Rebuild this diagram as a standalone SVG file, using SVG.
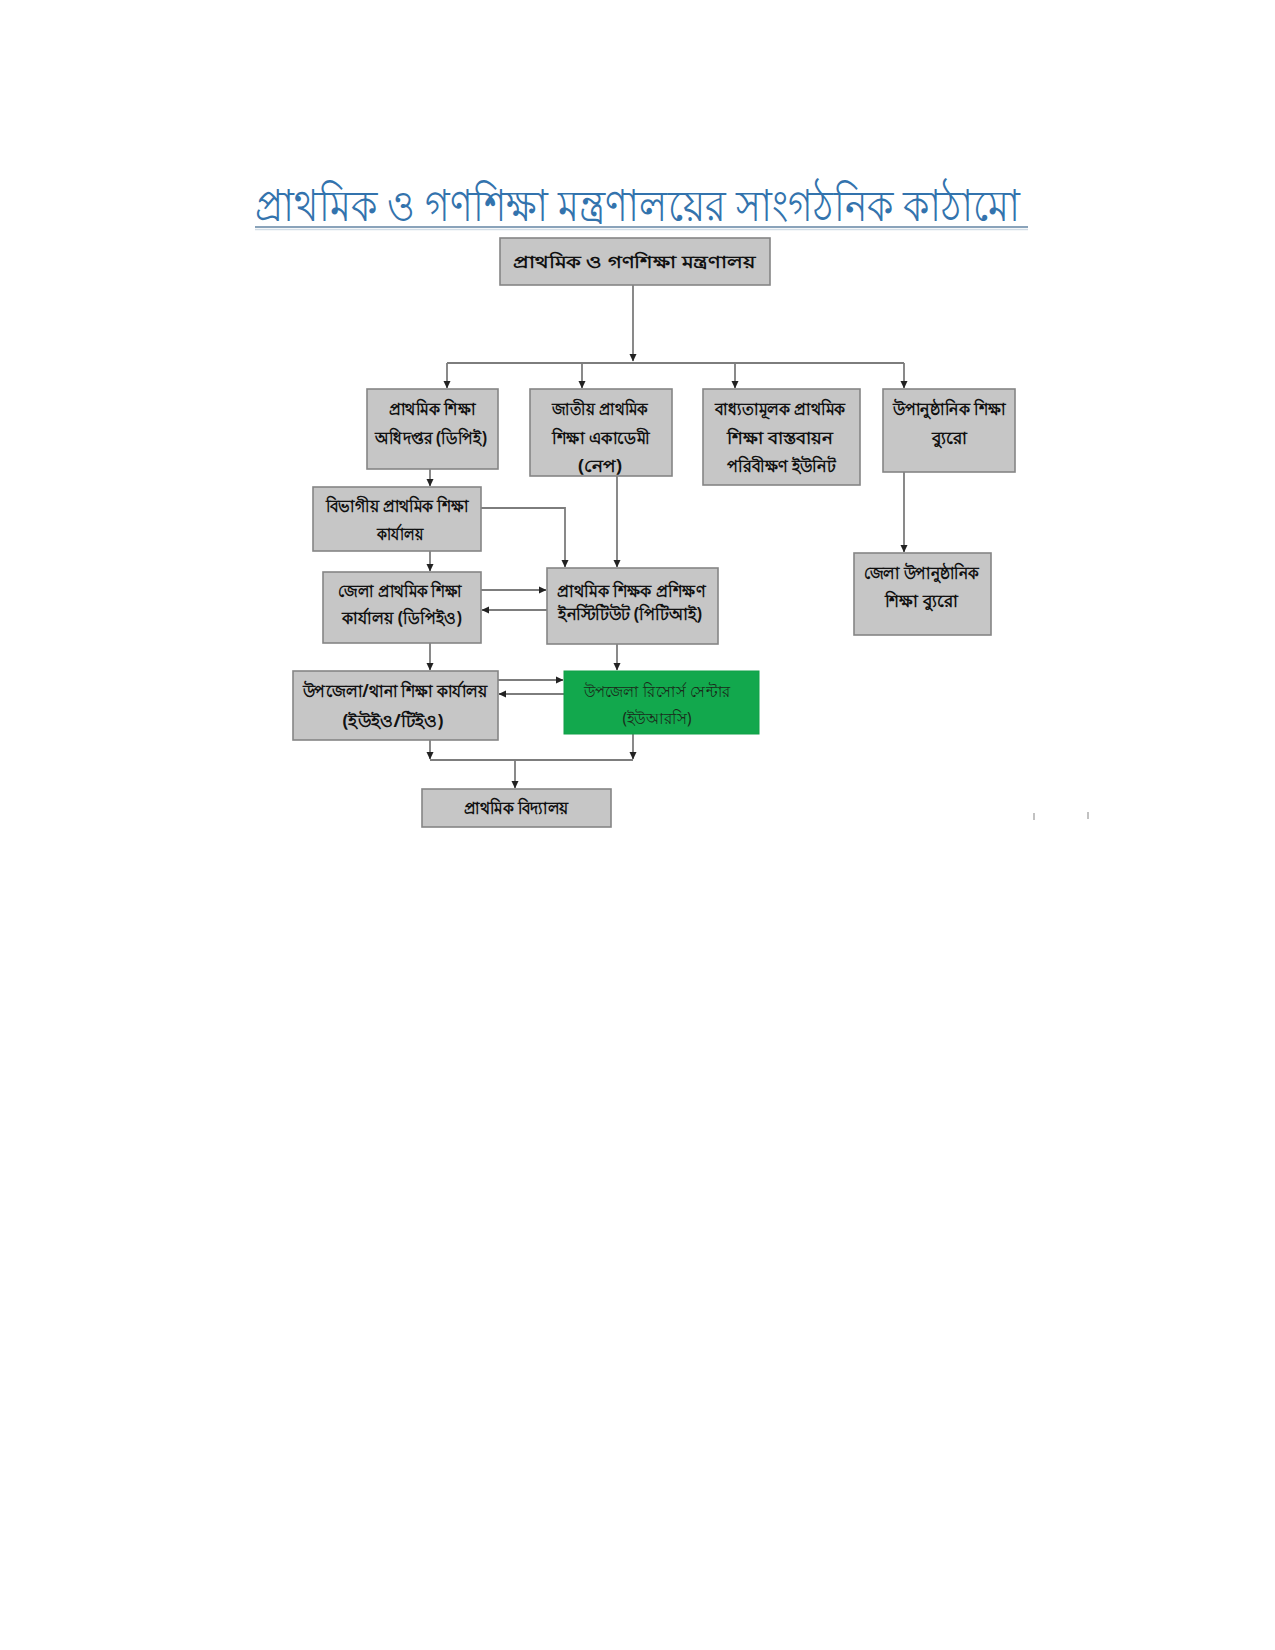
<svg xmlns="http://www.w3.org/2000/svg" width="1275" height="1650" viewBox="0 0 1275 1650">
<style>
.box{fill:#c6c6c6;stroke:#858585;stroke-width:1.6}
.green{fill:#12a84d;stroke:#10a048;stroke-width:1}
.t{font-family:"Noto Sans","DejaVu Sans",sans-serif;font-size:17px;font-weight:bold;fill:#111;text-anchor:middle}
.tg{font-family:"Noto Sans","DejaVu Sans",sans-serif;font-size:16px;font-weight:normal;fill:#1a2a1a;text-anchor:middle}
.title{font-family:"Noto Sans","DejaVu Sans",sans-serif;font-size:44px;fill:#3373ad}
.ln{fill:none;stroke:#7d7d7d;stroke-width:1.8}
</style>
<defs>
<marker id="ah" markerWidth="8" markerHeight="8" refX="7" refY="4" orient="auto" markerUnits="userSpaceOnUse">
<path d="M0,0.5 L7.5,4 L0,7.5 Z" fill="#222"/>
</marker>
</defs>
<rect width="1275" height="1650" fill="#fff"/>

<g id="title">
<text class="title" x="255" y="221" textLength="765" lengthAdjust="spacingAndGlyphs">প্রাথমিক ও গণশিক্ষা মন্ত্রণালয়ের সাংগঠনিক কাঠামো</text>
<line x1="255" y1="227" x2="1028" y2="227" stroke="#8aa3ba" stroke-width="2"/>
<line x1="255" y1="229.5" x2="1028" y2="229.5" stroke="#d3dde6" stroke-width="1.5"/>
</g>

<g id="connectors">
<path class="ln" d="M633,285 V361" marker-end="url(#ah)"/>
<path class="ln" d="M447,363 H904"/>
<path class="ln" d="M447,363 V388" marker-end="url(#ah)"/>
<path class="ln" d="M582,363 V388" marker-end="url(#ah)"/>
<path class="ln" d="M735,363 V388" marker-end="url(#ah)"/>
<path class="ln" d="M904,363 V388" marker-end="url(#ah)"/>
<path class="ln" d="M430,469 V486" marker-end="url(#ah)"/>
<path class="ln" d="M481,508 H565 V567" marker-end="url(#ah)"/>
<path class="ln" d="M617,476 V567" marker-end="url(#ah)"/>
<path class="ln" d="M430,551 V571" marker-end="url(#ah)"/>
<path class="ln" d="M481,590 H546" marker-end="url(#ah)"/>
<path class="ln" d="M547,610 H482" marker-end="url(#ah)"/>
<path class="ln" d="M904,472 V552" marker-end="url(#ah)"/>
<path class="ln" d="M430,643 V670" marker-end="url(#ah)"/>
<path class="ln" d="M617,644 V670" marker-end="url(#ah)"/>
<path class="ln" d="M498,680 H563" marker-end="url(#ah)"/>
<path class="ln" d="M564,694 H499" marker-end="url(#ah)"/>
<path class="ln" d="M430,740 V759" marker-end="url(#ah)"/>
<path class="ln" d="M633,734 V759" marker-end="url(#ah)"/>
<path class="ln" d="M430,760 H633"/>
<path class="ln" d="M515,760 V788" marker-end="url(#ah)"/>
</g>

<g id="n-ministry">
<rect class="box" x="500" y="238" width="270" height="47"/>
<text class="t" x="634" y="268" textLength="243" lengthAdjust="spacingAndGlyphs">প্রাথমিক ও গণশিক্ষা মন্ত্রণালয়</text>
</g>

<g id="n-dpe">
<rect class="box" x="367" y="389" width="131" height="80"/>
<text class="t" x="432" y="415" textLength="87" lengthAdjust="spacingAndGlyphs">প্রাথমিক শিক্ষা</text>
<text class="t" x="431" y="444" textLength="112" lengthAdjust="spacingAndGlyphs">অধিদপ্তর (ডিপিই)</text>
</g>

<g id="n-nape">
<rect class="box" x="530" y="389" width="142" height="87"/>
<text class="t" x="600" y="415" textLength="96" lengthAdjust="spacingAndGlyphs">জাতীয় প্রাথমিক</text>
<text class="t" x="601" y="444" textLength="98" lengthAdjust="spacingAndGlyphs">শিক্ষা একাডেমী</text>
<text class="t" x="600" y="472" textLength="44" lengthAdjust="spacingAndGlyphs">(নেপ)</text>
</g>

<g id="n-compulsory">
<rect class="box" x="703" y="389" width="157" height="96"/>
<text class="t" x="780" y="415" textLength="130" lengthAdjust="spacingAndGlyphs">বাধ্যতামূলক প্রাথমিক</text>
<text class="t" x="780" y="444" textLength="106" lengthAdjust="spacingAndGlyphs">শিক্ষা বাস্তবায়ন</text>
<text class="t" x="781" y="472" textLength="108" lengthAdjust="spacingAndGlyphs">পরিবীক্ষণ ইউনিট</text>
</g>

<g id="n-nfe">
<rect class="box" x="883" y="389" width="132" height="83"/>
<text class="t" x="949" y="415" textLength="113" lengthAdjust="spacingAndGlyphs">উপানুষ্ঠানিক শিক্ষা</text>
<text class="t" x="949" y="444" textLength="35" lengthAdjust="spacingAndGlyphs">ব্যুরো</text>
</g>

<g id="n-division">
<rect class="box" x="313" y="487" width="168" height="64"/>
<text class="t" x="397" y="512" textLength="143" lengthAdjust="spacingAndGlyphs">বিভাগীয় প্রাথমিক শিক্ষা</text>
<text class="t" x="400" y="540" textLength="46" lengthAdjust="spacingAndGlyphs">কার্যালয়</text>
</g>

<g id="n-dpeo">
<rect class="box" x="323" y="572" width="158" height="71"/>
<text class="t" x="400" y="597" textLength="124" lengthAdjust="spacingAndGlyphs">জেলা প্রাথমিক শিক্ষা</text>
<text class="t" x="402" y="624" textLength="120" lengthAdjust="spacingAndGlyphs">কার্যালয় (ডিপিইও)</text>
</g>

<g id="n-pti">
<rect class="box" x="547" y="568" width="171" height="76"/>
<text class="t" x="631" y="597" textLength="148" lengthAdjust="spacingAndGlyphs">প্রাথমিক শিক্ষক প্রশিক্ষণ</text>
<text class="t" x="630" y="620" textLength="144" lengthAdjust="spacingAndGlyphs">ইনস্টিটিউট (পিটিআই)</text>
</g>

<g id="n-district-nfe">
<rect class="box" x="854" y="553" width="137" height="82"/>
<text class="t" x="921" y="579" textLength="115" lengthAdjust="spacingAndGlyphs">জেলা উপানুষ্ঠানিক</text>
<text class="t" x="921" y="607" textLength="73" lengthAdjust="spacingAndGlyphs">শিক্ষা ব্যুরো</text>
</g>

<g id="n-ueo">
<rect class="box" x="293" y="671" width="205" height="69"/>
<text class="t" x="395" y="697" textLength="185" lengthAdjust="spacingAndGlyphs">উপজেলা/থানা শিক্ষা কার্যালয়</text>
<text class="t" x="393" y="727" textLength="101" lengthAdjust="spacingAndGlyphs">(ইউইও/টিইও)</text>
</g>

<g id="n-urc">
<rect class="green" x="564" y="671" width="195" height="63"/>
<text class="tg" x="657" y="697" textLength="147" lengthAdjust="spacingAndGlyphs">উপজেলা রিসোর্স সেন্টার</text>
<text class="tg" x="657" y="724" textLength="69" lengthAdjust="spacingAndGlyphs">(ইউআরসি)</text>
</g>

<g id="n-school">
<rect class="box" x="422" y="789" width="189" height="38"/>
<text class="t" x="516" y="814" textLength="105" lengthAdjust="spacingAndGlyphs">প্রাথমিক বিদ্যালয়</text>
</g>

<g id="marks">
<line x1="1034" y1="813" x2="1034" y2="820" stroke="#999" stroke-width="1.2"/>
<line x1="1088" y1="812" x2="1088" y2="819" stroke="#999" stroke-width="1.2"/>
</g>
</svg>
